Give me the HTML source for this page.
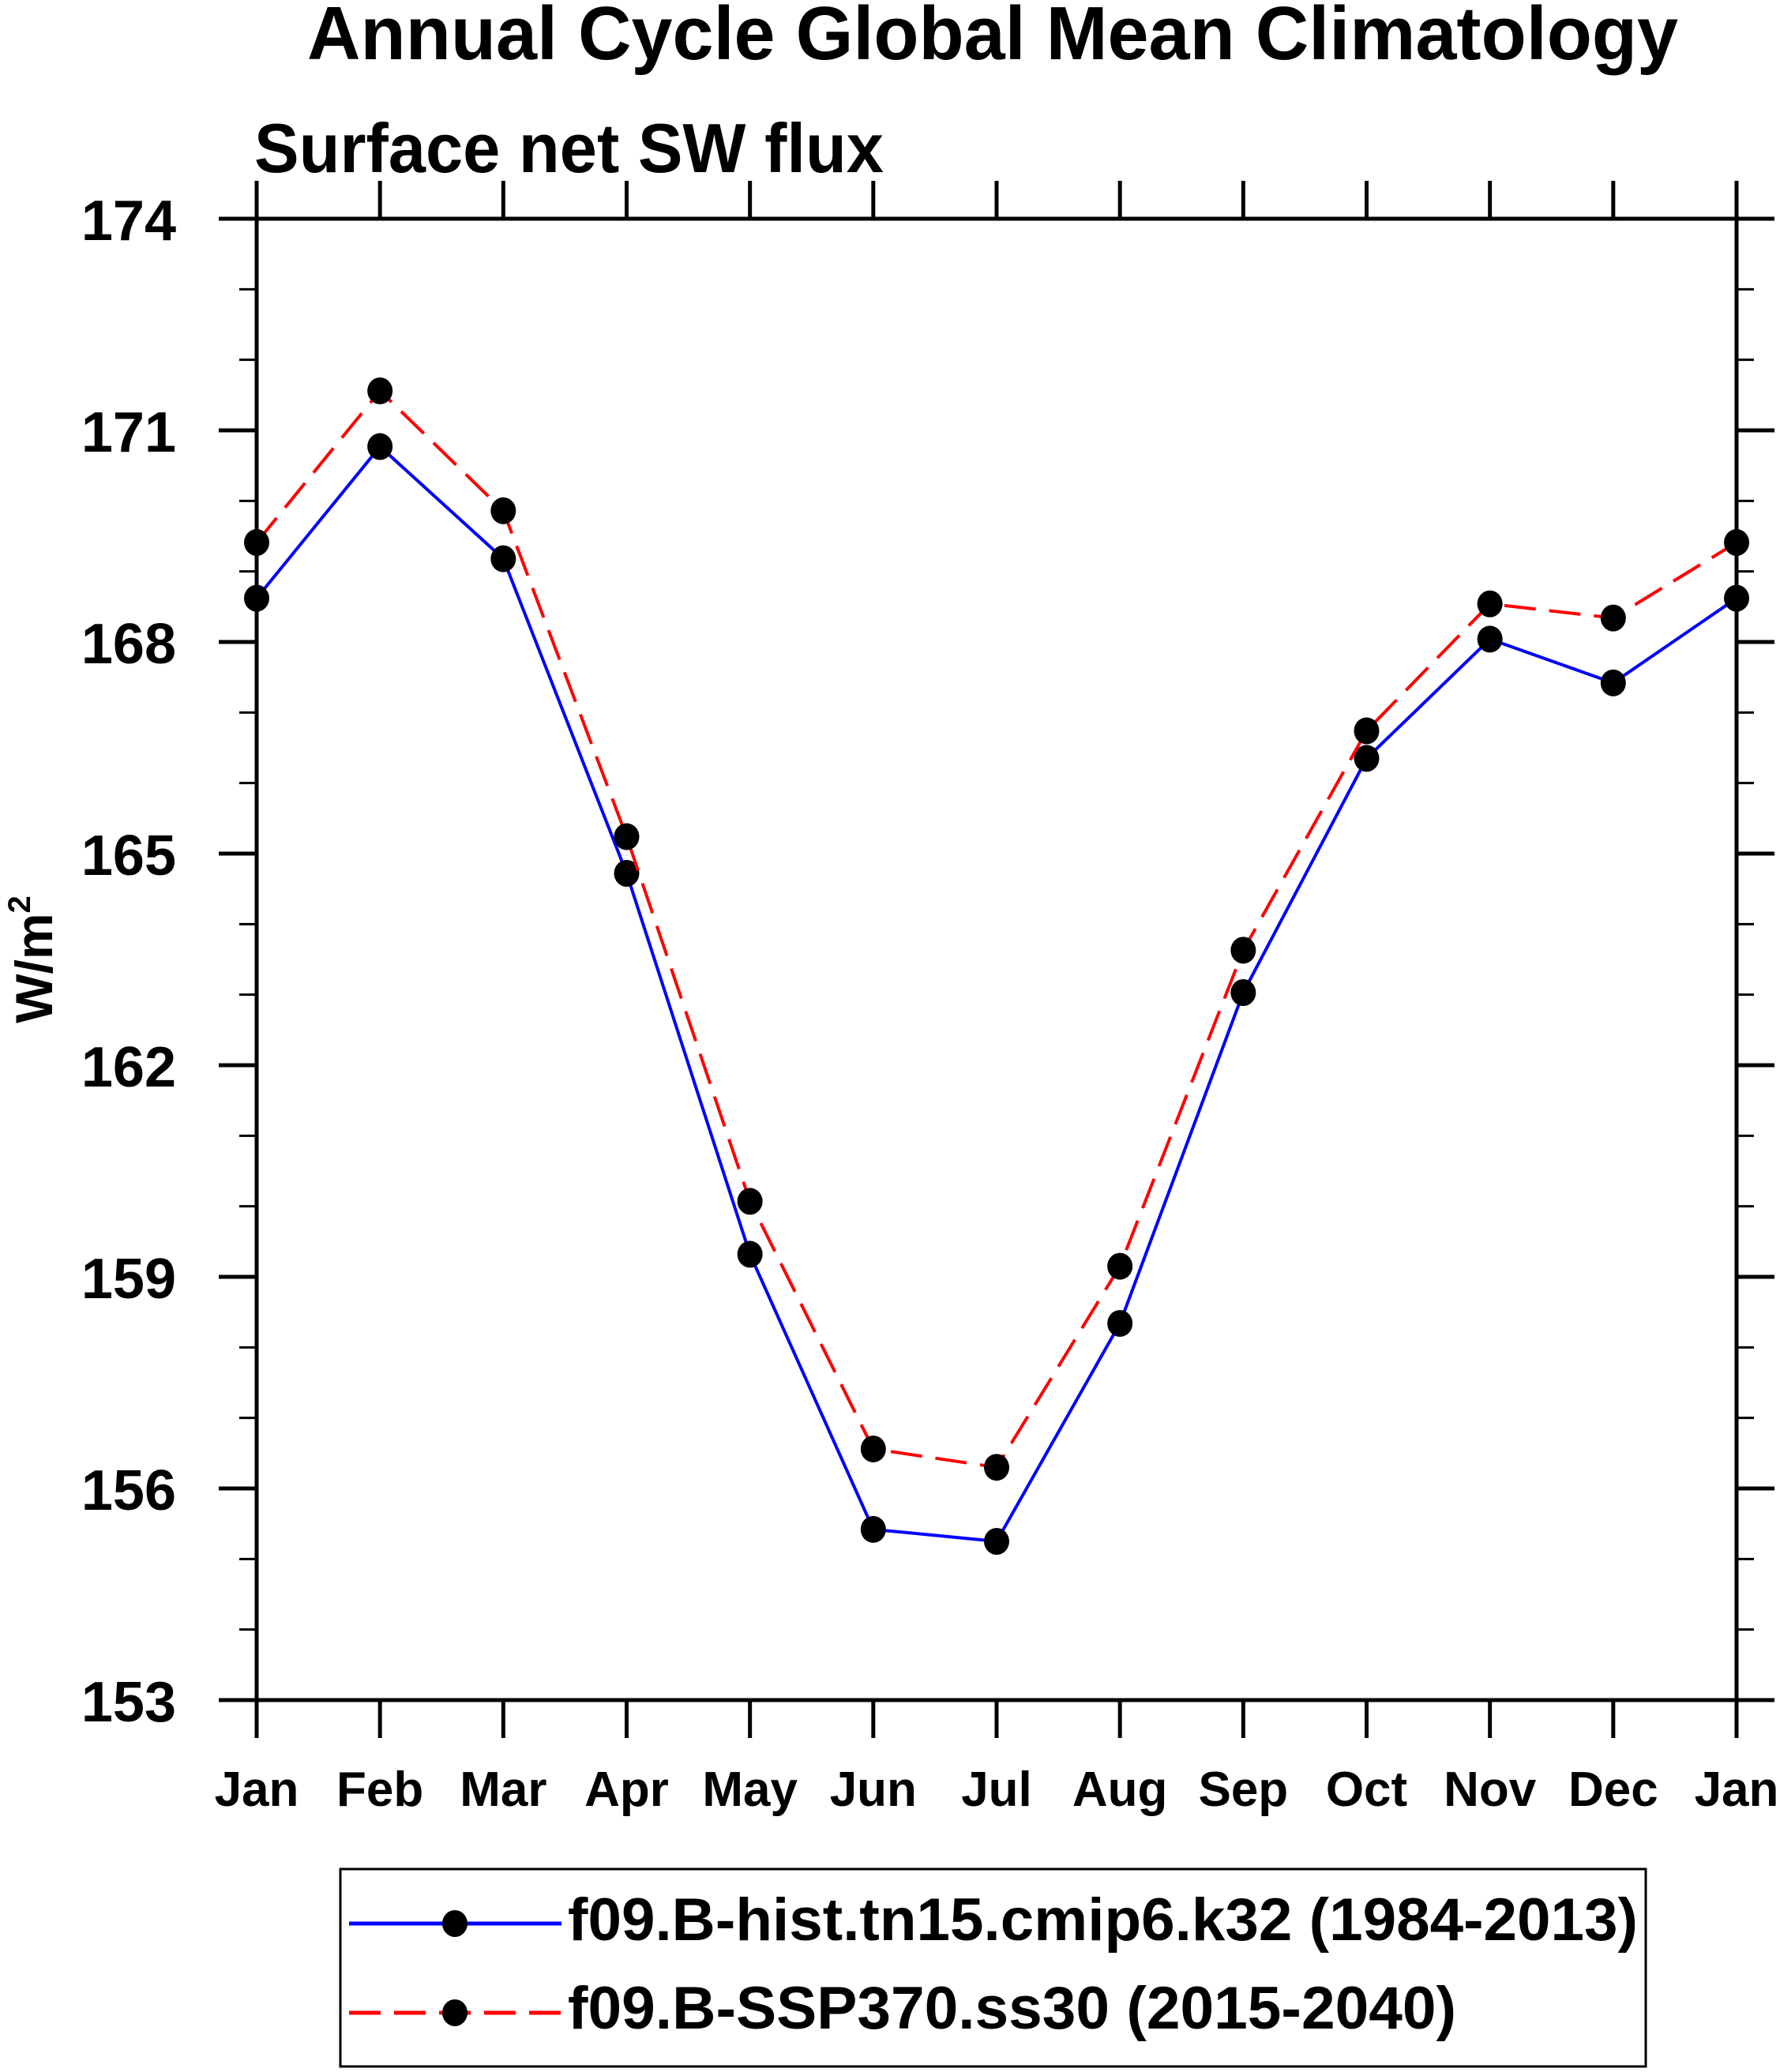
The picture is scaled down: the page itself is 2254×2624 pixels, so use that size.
<!DOCTYPE html>
<html><head><meta charset="utf-8"><style>
html,body{margin:0;padding:0;background:#fff}
svg{display:block}
text{font-family:"Liberation Sans",sans-serif;font-weight:bold;fill:#000}
</style></head><body>
<svg id="chart" width="2254" height="2624" viewBox="0 0 2254 2624" xmlns="http://www.w3.org/2000/svg">
<text x="389" y="75" font-size="96" textLength="1736" lengthAdjust="spacingAndGlyphs">Annual Cycle Global Mean Climatology</text>
<text x="322" y="218" font-size="88" textLength="797" lengthAdjust="spacingAndGlyphs">Surface net SW flux</text>
<text transform="translate(66,1215) rotate(-90)" text-anchor="middle" font-size="66">W/m<tspan font-size="40" dy="-28">2</tspan></text>
<g id="axes"></g>
<g id="series"></g>
<g>
<rect x="431" y="2367" width="1653" height="250" fill="none" stroke="#000" stroke-width="3"/>
<g>
<line x1="442" y1="2436" x2="711" y2="2436" stroke="#00f" stroke-width="5"/>
<ellipse cx="576" cy="2436" rx="16" ry="17" fill="#000"/>
<text x="719" y="2457" font-size="76" textLength="1355" lengthAdjust="spacingAndGlyphs">f09.B-hist.tn15.cmip6.k32 (1984-2013)</text>
</g>
<g>
<line x1="442" y1="2549" x2="711" y2="2549" stroke="#f00" stroke-width="5" stroke-dasharray="40 17"/>
<ellipse cx="576" cy="2549" rx="16" ry="17" fill="#000"/>
<text x="719" y="2569" font-size="76" textLength="1125" lengthAdjust="spacingAndGlyphs">f09.B-SSP370.ss30 (2015-2040)</text>
</g>
</g>
</svg>
<script>
const months = ["Jan","Feb","Mar","Apr","May","Jun","Jul","Aug","Sep","Oct","Nov","Dec","Jan"];
const histValues = [168.62,170.77,169.18,164.72,159.32,155.42,155.25,158.34,163.03,166.35,168.04,167.42,168.62];
const sspValues = [169.41,171.56,169.86,165.24,160.07,156.56,156.30,159.15,163.63,166.74,168.54,168.34,169.41];
const yMajorTicks = [153,156,159,162,165,168,171,174];
const yMin = 153, yMax = 174;

const NS = "http://www.w3.org/2000/svg";
const L = 325, R = 2199, T = 277, B = 2153;
function xPos(i){ return L + i*(R-L)/(months.length-1); }
function yPos(v){ return B - (v-yMin)*(B-T)/(yMax-yMin); }
function mk(tag, attrs, parent){
  const e = document.createElementNS(NS, tag);
  for (const k in attrs) e.setAttribute(k, attrs[k]);
  parent.appendChild(e); return e;
}
const axes = document.getElementById("axes");
const frame = mk("rect", {x:L, y:T, width:R-L, height:B-T, fill:"none", stroke:"#000", "stroke-width":5}, axes);


// x ticks and labels
months.forEach((m,i)=>{
  const x = xPos(i);
  mk("line", {x1:x, y1:B, x2:x, y2:B+48, stroke:"#000", "stroke-width":5}, axes);
  mk("line", {x1:x, y1:T, x2:x, y2:T-48, stroke:"#000", "stroke-width":5}, axes);
  const t = mk("text", {x:x, y:2287, "font-size":62, "text-anchor":"middle"}, axes);
  t.textContent = m;
  
  
});
// y ticks
for (let v = yMin; v <= yMax; v++) {
  const y = yPos(v);
  const major = yMajorTicks.includes(v);
  const len = major ? 48 : 22;
  const sw = major ? 5 : 3;
  mk("line", {x1:L, y1:y, x2:L-len, y2:y, stroke:"#000", "stroke-width":sw}, axes);
  mk("line", {x1:R, y1:y, x2:R+len, y2:y, stroke:"#000", "stroke-width":sw}, axes);
}
yMajorTicks.forEach(v=>{
  const t = mk("text", {x:223, y:yPos(v)+27, "font-size":72, "text-anchor":"end"}, axes);
  t.textContent = String(v);
  
  
});
// series
const sg = document.getElementById("series");
function drawSeries(vals, color, dash, name){
  const g = mk("g", {}, sg);
  
  
  const pts = vals.map((v,i)=>xPos(i)+","+yPos(v)).join(" ");
  const pl = mk("polyline", {points:pts, fill:"none", stroke:color, "stroke-width":4}, g);
  if (dash) pl.setAttribute("stroke-dasharray", dash);
  
  
  vals.forEach((v,i)=>{
    const c = mk("ellipse", {cx:xPos(i), cy:yPos(v), rx:16, ry:17, fill:"#000"}, g);
    
    
  });
}
drawSeries(histValues, "#00f", null, "hist-series");
drawSeries(sspValues, "#f00", "40 17", "ssp370-series");
</script>
</body></html>
